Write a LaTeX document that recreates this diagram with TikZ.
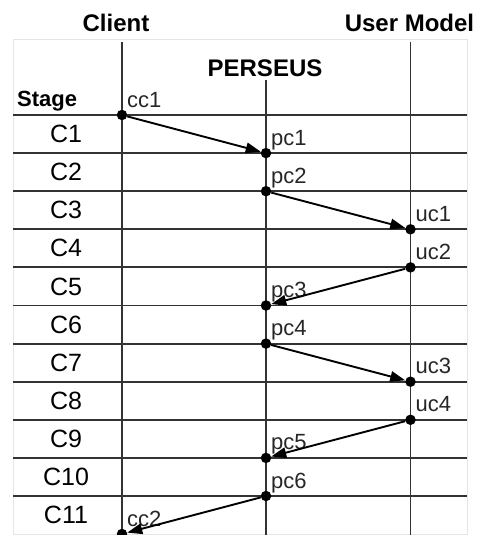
\documentclass[tikz,border=0pt]{standalone}
\usepackage{fontspec}
\setmainfont{Liberation Sans}
\usetikzlibrary{arrows.meta}
\begin{document}
\begin{tikzpicture}[x=1pt,y=-1pt,
  frame/.style={draw=black!10, line width=1pt},
  grid/.style={draw=black!80, line width=1.9pt},
  event/.style={circle, fill=black, inner sep=0pt, minimum size=10.5pt},
  msg/.style={line width=1.9pt, -{Triangle[length=15pt,width=10.5pt]}},
  head/.style={font=\fontsize{24pt}{28pt}\selectfont\bfseries, inner sep=0pt},
  stagelab/.style={font=\fontsize{22pt}{26pt}\selectfont\bfseries, inner sep=0pt, anchor=base west},
  rowlab/.style={font=\fontsize{25pt}{30pt}\selectfont, inner sep=0pt},
  evlab/.style={font=\fontsize{22pt}{26pt}\selectfont, text=black!85, inner sep=0pt, anchor=base west}]
  \useasboundingbox (0,0) rectangle (483,535);

  % light outer frame
  \draw[frame] (13,40) rectangle (467,534);

  % stage rows
  \foreach \k in {0,...,10} {
    \draw[grid] (13,{115+38.1*\k}) -- (467,{115+38.1*\k});
  }
  % process lanes
  \draw[grid] (122,42) -- (122,535);
  \draw[grid] (266,80) -- (266,535);
  \draw[grid] (410.5,42) -- (410.5,535);

  % headings
  \node[head] (client) at (116,23) {Client};
  \node[head] (usermodel) at (409.5,23) {User Model};
  \node[head] (perseus) at (265,68) {PERSEUS};
  \node[stagelab] (stage) at (17,106) {Stage};

  % stage names
  \foreach \k in {1,...,11} {
    \node[rowlab] (row\k) at (66,{115+38.1*(\k-0.5)}) {C\k};
  }

  % events
  \node[event] (cc1) at (122,115) {};
  \node[event] (pc1) at (266,153.1) {};
  \node[event] (pc2) at (266,191.2) {};
  \node[event] (uc1) at (410.5,229.3) {};
  \node[event] (uc2) at (410.5,267.4) {};
  \node[event] (pc3) at (266,305.5) {};
  \node[event] (pc4) at (266,343.6) {};
  \node[event] (uc3) at (410.5,381.7) {};
  \node[event] (uc4) at (410.5,419.8) {};
  \node[event] (pc5) at (266,457.9) {};
  \node[event] (pc6) at (266,496) {};
  \node[event] (cc2) at (122,534) {};

  % event labels
  \foreach \e/\x/\y in {cc1/122/115, pc1/266/153.1, pc2/266/191.2, uc1/410.5/229.3,
                        uc2/410.5/267.4, pc3/266/305.5, pc4/266/343.6, uc3/410.5/381.7,
                        uc4/410.5/419.8, pc5/266/457.9, pc6/266/496, cc2/122/534} {
    \node[evlab] (\e lab) at (\x+5,\y-8) {\e};
  }

  % messages
  \draw[msg] (cc1) -- (pc1);
  \draw[msg] (pc2) -- (uc1);
  \draw[msg] (uc2) -- (pc3);
  \draw[msg] (pc4) -- (uc3);
  \draw[msg] (uc4) -- (pc5);
  \draw[msg] (pc6) -- (cc2);
\end{tikzpicture}
\end{document}
